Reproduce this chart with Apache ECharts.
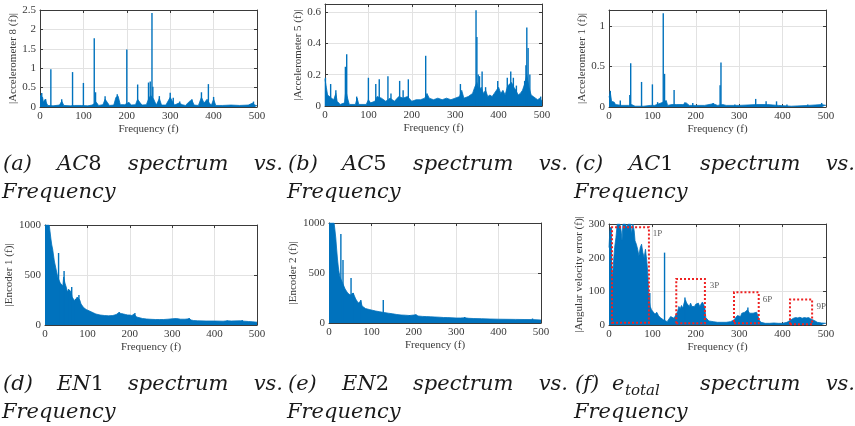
<!DOCTYPE html>
<html><head><meta charset="utf-8">
<script src="https://cdn.jsdelivr.net/npm/echarts@6/dist/echarts.min.js"></script>
<style>html,body{margin:0;padding:0;background:#fff}#c{width:855px;height:426px}</style>
</head><body><div id="c"></div>
<script>
// ---------------- data ----------------
const freqTicks = [0, 100, 200, 300, 400, 500];

const ac8Floor = [[0,0.3],[3,0.35],[6,0.25],[8,0.12],[12,0.2],[15,0.1],[18,0.04],[30,0.03],[45,0.05],[50,0.15],[55,0.04],[70,0.03],[80,0.04],[95,0.04],[110,0.03],[120,0.05],[130,0.12],[135,0.04],[145,0.06],[150,0.2],[155,0.12],[160,0.04],[170,0.05],[175,0.25],[180,0.28],[185,0.06],[195,0.06],[205,0.12],[210,0.05],[220,0.06],[225,0.2],[230,0.12],[235,0.05],[245,0.06],[250,0.2],[255,0.3],[262,0.2],[268,0.05],[275,0.22],[280,0.05],[290,0.05],[300,0.25],[305,0.15],[310,0.05],[320,0.1],[328,0.06],[335,0.04],[345,0.15],[350,0.18],[355,0.05],[365,0.04],[372,0.25],[378,0.1],[385,0.2],[390,0.1],[395,0.05],[400,0.2],[405,0.04],[420,0.04],[440,0.05],[460,0.04],[480,0.05],[490,0.1],[495,0.05],[500,0.03]];
const ac8Peaks = [[4,0.36],[13,0.2],[25,0.97],[50,0.2],[75,0.9],[100,0.62],[125,1.77],[128,0.38],[150,0.28],[178,0.33],[200,1.48],[225,0.58],[250,0.63],[254,0.66],[258,2.42],[260,0.52],[275,0.28],[300,0.37],[307,0.24],[322,0.14],[350,0.2],[372,0.38],[388,0.59],[400,0.26],[492,0.14]];

const ac5Floor = [[0,0.17],[3,0.12],[6,0.07],[10,0.08],[15,0.05],[20,0.04],[25,0.08],[28,0.03],[35,0.01],[45,0.02],[48,0.1],[52,0.05],[56,0.01],[70,0.01],[74,0.05],[78,0.01],[95,0.01],[100,0.04],[105,0.02],[115,0.03],[120,0.06],[130,0.05],[140,0.03],[150,0.05],[160,0.03],[170,0.06],[180,0.05],[190,0.06],[200,0.03],[210,0.04],[220,0.04],[230,0.05],[235,0.08],[240,0.05],[250,0.04],[260,0.05],[270,0.04],[280,0.05],[290,0.04],[300,0.05],[310,0.06],[315,0.1],[320,0.05],[330,0.06],[340,0.08],[345,0.12],[350,0.15],[355,0.1],[360,0.12],[365,0.08],[370,0.1],[375,0.06],[380,0.07],[385,0.06],[390,0.08],[395,0.1],[400,0.12],[405,0.08],[410,0.1],[415,0.07],[420,0.12],[425,0.14],[430,0.15],[435,0.12],[440,0.1],[445,0.07],[450,0.08],[455,0.1],[460,0.14],[465,0.2],[470,0.12],[475,0.07],[480,0.06],[485,0.05],[490,0.04],[495,0.05],[500,0.03]];
const ac5Peaks = [[1,0.18],[13,0.14],[25,0.1],[47,0.25],[50,0.33],[73,0.06],[100,0.18],[117,0.14],[125,0.17],[145,0.19],[152,0.08],[172,0.16],[180,0.1],[192,0.17],[232,0.32],[312,0.14],[348,0.61],[350,0.44],[353,0.2],[356,0.19],[362,0.22],[370,0.12],[398,0.16],[420,0.18],[428,0.22],[434,0.18],[441,0.13],[460,0.16],[463,0.26],[465,0.5],[468,0.37],[472,0.2],[497,0.06]];

const ac1Floor = [[0,0.12],[3,0.18],[6,0.07],[12,0.06],[15,0.03],[30,0.02],[45,0.02],[52,0.03],[60,0.01],[80,0.01],[95,0.02],[105,0.02],[115,0.04],[120,0.05],[132,0.08],[135,0.02],[145,0.03],[155,0.03],[170,0.03],[178,0.05],[185,0.02],[200,0.02],[220,0.02],[240,0.04],[250,0.02],[262,0.03],[270,0.02],[300,0.02],[340,0.03],[365,0.03],[390,0.02],[420,0.01],[460,0.02],[490,0.03],[500,0.02]];
const ac1Peaks = [[3,0.2],[26,0.08],[48,0.15],[50,0.54],[75,0.31],[100,0.28],[112,0.06],[125,1.16],[128,0.41],[150,0.21],[175,0.06],[193,0.05],[240,0.05],[256,0.27],[258,0.55],[290,0.03],[338,0.1],[362,0.07],[386,0.07],[410,0.03],[458,0.03],[490,0.05]];

const en1Floor = [[0,1000],[2,1000],[5,1000],[8,1000],[10,1000],[12,930],[14,860],[16,800],[18,760],[20,700],[22,640],[24,600],[26,560],[28,520],[30,480],[34,470],[36,420],[38,400],[40,420],[42,390],[44,480],[47,420],[50,380],[53,330],[56,360],[58,300],[61,340],[64,280],[67,270],[70,240],[73,260],[76,280],[79,290],[82,250],[85,210],[88,190],[91,175],[94,165],[97,155],[100,150],[105,140],[110,130],[115,120],[120,110],[130,100],[140,95],[150,92],[160,95],[168,105],[173,120],[176,130],[180,115],[185,110],[190,105],[195,100],[200,100],[205,95],[210,110],[213,120],[216,80],[220,70],[230,65],[240,60],[250,57],[260,55],[270,55],[280,55],[290,58],[300,62],[310,65],[320,58],[330,58],[340,62],[345,50],[350,45],[360,42],[380,40],[400,40],[420,38],[430,42],[440,40],[460,42],[470,38],[480,35],[490,32],[500,28]];
const en1Peaks = [[32,720],[45,540],[58,350],[63,380],[72,260],[80,300],[175,130],[212,120],[340,70],[430,45],[465,50]];

const en2Floor = [[0,1000],[3,1000],[6,1000],[9,1000],[12,1000],[14,930],[16,850],[18,740],[20,640],[22,560],[24,500],[26,460],[30,420],[32,400],[35,370],[38,340],[41,320],[44,300],[47,290],[50,280],[54,260],[57,300],[60,270],[63,240],[66,220],[69,200],[72,210],[75,220],[78,170],[82,150],[86,145],[90,140],[95,135],[100,130],[110,120],[120,112],[130,105],[140,98],[150,92],[160,85],[170,80],[180,78],[190,75],[200,80],[205,82],[210,70],[220,66],[230,64],[240,62],[250,60],[260,58],[270,55],[280,54],[290,52],[300,50],[310,50],[320,52],[330,47],[340,45],[360,43],[380,40],[400,38],[420,37],[440,36],[460,35],[480,34],[500,30]];
const en2Peaks = [[28,890],[33,630],[52,450],[57,300],[75,230],[128,230],[190,80],[205,85],[320,60],[480,45]];

const errFloor = [[0,230],[2,280],[4,290],[6,180],[8,140],[10,180],[13,230],[16,260],[19,300],[22,300],[25,300],[28,280],[30,250],[32,300],[35,300],[38,300],[41,290],[44,300],[47,300],[50,300],[52,270],[55,300],[58,280],[60,250],[63,240],[66,225],[69,205],[72,230],[75,240],[78,215],[81,200],[84,225],[87,190],[89,160],[91,110],[93,70],[95,55],[98,45],[102,40],[106,32],[110,38],[114,28],[118,22],[122,18],[126,15],[130,15],[134,10],[138,12],[142,25],[146,30],[150,20],[154,15],[158,40],[161,55],[164,48],[167,58],[170,50],[173,65],[176,75],[179,65],[182,60],[185,55],[188,65],[191,55],[194,60],[197,55],[200,62],[203,58],[206,65],[209,55],[212,62],[215,68],[218,62],[221,50],[223,22],[226,18],[230,12],[240,10],[250,8],[260,8],[270,8],[280,10],[288,15],[292,22],[296,28],[300,32],[303,25],[306,35],[310,30],[313,38],[316,35],[319,45],[321,50],[324,35],[328,32],[332,35],[336,30],[340,38],[343,28],[346,15],[350,8],[360,5],[370,5],[380,6],[390,5],[400,5],[410,8],[415,12],[420,16],[425,20],[430,22],[435,21],[440,23],[445,20],[450,22],[455,21],[460,22],[465,18],[470,15],[475,12],[480,8],[490,6],[500,5]];
const errPeaks = [[5,290],[94,95],[128,215],[175,82],[320,52]];

// harmonic boxes on panel (f): [f0, f1, y0, y1]
const boxRanges = [[7,92,7,290],[155,221,5,137],[288,345,5,97],[417,468,2,76]];
const boxLabels = ['1P','3P','6P','9P'];
const boxLabelPos = [[101,270],[232,116],[354,74],[478,56]];

const yNames = ['|Accelerometer 8 (f)|','|Accelerometer 5 (f)|','|Accelerometer 1 (f)|','|Encoder 1 (f)|','|Encoder 2 (f)|','|Angular velocity error (f)|'];
const yMax = [2.5, 0.65, 1.2, 1000, 1000, 300];
const yStep = [0.5, 0.2, 0.5, 500, 500, 100];
const floors = [ac8Floor, ac5Floor, ac1Floor, en1Floor, en2Floor, errFloor];
const peaks = [ac8Peaks, ac5Peaks, ac1Peaks, en1Peaks, en2Peaks, errPeaks];
const xName = 'Frequency (f)';

// ---------------- layout ----------------
const grids = [
  {left:40, top:10, width:217, height:97},
  {left:325, top:4, width:217, height:102},
  {left:609, top:10, width:217, height:97},
  {left:45, top:225, width:212, height:100},
  {left:329, top:223, width:212, height:100},
  {left:609, top:224, width:217, height:101}
];
const yNameGap = [20, 20, 19, 27, 26, 21];

const BLUE = '#0072BD';
const AX = '#3a3a3a';
const AXFONT = "'Liberation Serif'";
const fmt = v => String(Math.round(v * 1000) / 1000);

const xAxis = [], yAxis = [], series = [];
grids.forEach((g, i) => {
  const common = {gridIndex:i, type:'value', axisLine:{show:true, onZero:false, lineStyle:{color:AX, width:1}},
    axisTick:{show:true, inside:true, length:3, lineStyle:{color:AX}}};
  xAxis.push(Object.assign({}, common, {position:'bottom', min:freqTicks[0], max:freqTicks[freqTicks.length-1], interval:100,
    axisLabel:{fontFamily:AXFONT, fontSize:11, color:AX, margin:4, formatter:fmt},
    splitLine:{show:true, lineStyle:{color:'#e2e2e2', width:1}},
    name:xName, nameLocation:'middle', nameGap:17, nameTextStyle:{fontFamily:AXFONT, fontSize:11, color:AX}}));
  xAxis.push(Object.assign({}, common, {position:'top', min:0, max:500, interval:100, axisLabel:{show:false}, splitLine:{show:false}}));
  const showMax = Math.abs(Math.round(yMax[i] / yStep[i]) * yStep[i] - yMax[i]) < 1e-9;
  yAxis.push(Object.assign({}, common, {position:'left', min:0, max:yMax[i], interval:yStep[i],
    axisLabel:{fontFamily:AXFONT, fontSize:11, color:AX, margin:4, formatter:fmt, showMaxLabel:showMax},
    splitLine:{show:true, lineStyle:{color:'#e2e2e2', width:1}},
    name:yNames[i], nameLocation:'middle', nameGap:yNameGap[i], nameTextStyle:{fontFamily:AXFONT, fontSize:11, color:AX}}));
  yAxis.push(Object.assign({}, common, {position:'right', min:0, max:yMax[i], interval:yStep[i], axisLabel:{show:false}, splitLine:{show:false}}));

  series.push({type:'line', xAxisIndex:2*i, yAxisIndex:2*i, data:floors[i], symbol:'none', clip:true,
    lineStyle:{color:BLUE, width:0.8}, areaStyle:{color:BLUE, opacity:1}, silent:true, z:2});
  series.push({type:'bar', xAxisIndex:2*i, yAxisIndex:2*i, data:peaks[i], barWidth:1.4, clip:true,
    itemStyle:{color:BLUE}, silent:true, z:3});
});

// harmonic boxes on panel (f)
series.push({type:'scatter', xAxisIndex:10, yAxisIndex:10, data:boxLabelPos, symbolSize:0, silent:true, z:6,
  label:{show:true, position:'right', distance:0, formatter:p => boxLabels[p.dataIndex],
    fontFamily:AXFONT, fontSize:9, color:'#333'},
  markArea:{silent:true, z:5, itemStyle:{color:'rgba(0,0,0,0)', borderColor:'#ee2222', borderWidth:2, borderType:[2,2]},
    data: boxRanges.map(b => [{coord:[b[0], b[2]]}, {coord:[b[1], b[3]]}])}});

// ---------------- captions ----------------
const capRich = {
  i:{fontStyle:'italic', fontFamily:'DejaVu Serif', fontSize:21, fill:'#1a1a1a', color:'#1a1a1a'},
  u:{fontStyle:'normal', fontFamily:'DejaVu Serif', fontSize:21, fill:'#1a1a1a', color:'#1a1a1a'},
  s:{fontStyle:'italic', fontFamily:'DejaVu Serif', fontSize:15, fill:'#1a1a1a', color:'#1a1a1a'}
};
const captionLabels = ['(a)','(b)','(c)','(d)','(e)','(f)'];
const captionNames = ['{i|AC}{u|8}','{i|AC}{u|5}','{i|AC}{u|1}','{i|EN}{u|1}','{i|EN}{u|2}',null];
const captionWord = 'spectrum', captionVs = 'vs.', captionLine2 = 'Frequency';
const colX = [0, 285, 572];
const rowY = [165, 385];
const graphic = [];
function txt(x, y, text, align, size) {
  return {type:'text', x:x, y:y, silent:true, style:{text:text, rich:capRich,
    fontFamily:'DejaVu Serif', fontStyle:'italic', fontSize:size || 21, fill:'#1a1a1a',
    align:align || 'left', verticalAlign:'middle', textAlign:align || 'left', textVerticalAlign:'middle'}};
}
captionLabels.forEach((lab, k) => {
  const cx = colX[k % 3], cy = rowY[Math.floor(k / 3)];
  graphic.push(txt(cx + 3, cy, '{i|' + lab + '}'));
  if (captionNames[k]) {
    graphic.push(txt(cx + 57, cy, captionNames[k]));
  } else {
    graphic.push(txt(cx + 40, cy, '{i|e}'));
    graphic.push(txt(cx + 53, cy + 6, '{s|total}', 'left', 15));
  }
  graphic.push(txt(cx + 128, cy, '{i|' + captionWord + '}'));
  graphic.push(txt(cx + 283, cy, '{i|' + captionVs + '}', 'right'));
  graphic.push(txt(cx + 2, cy + 28, '{i|' + captionLine2 + '}'));
});

const chart = echarts.init(document.getElementById('c'), null, {renderer:'canvas'});
chart.setOption({
  animation:false,
  backgroundColor:'#ffffff',
  grid: grids.map(g => Object.assign({show:false, containLabel:false}, g)),
  xAxis, yAxis, series, graphic
});
</script>
</body></html>
